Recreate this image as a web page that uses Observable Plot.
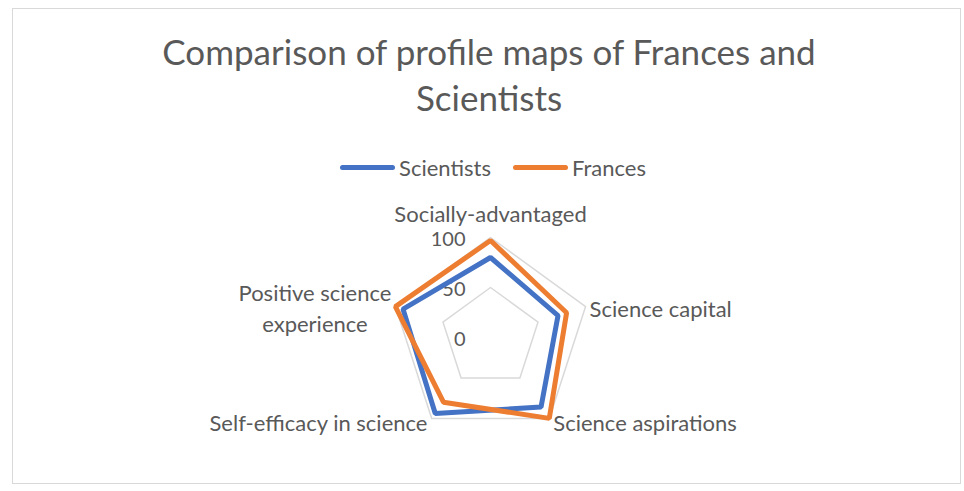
<!DOCTYPE html>
<html>
<head>
<meta charset="utf-8">
<script src="https://cdn.jsdelivr.net/npm/d3@7"></script>
<script src="https://cdn.jsdelivr.net/npm/@observablehq/plot@0.6"></script>
<style>
  html, body { margin: 0; padding: 0; background: #fff; }
  #wrap { position: relative; width: 964px; height: 491px; font-family: Lato, "Open Sans", sans-serif; color: #595959; overflow: hidden; }
  #frame { position: absolute; left: 12px; top: 8px; width: 949px; height: 476px; border: 1px solid #d9d9d9; box-sizing: border-box; }
  #title { position: absolute; left: 0; width: 978px; top: 28px; text-align: center; font-size: 35px; line-height: 46px; }
  #legend { position: absolute; left: 0; width: 986px; top: 149px; text-align: center; font-size: 22px; line-height: 26px; }
  .item { display: inline-flex; align-items: center; margin: 0 11px; }
  .sw { display: inline-block; width: 55px; height: 5px; border-radius: 3px; margin-right: 4px; }
  #chart { position: absolute; left: 0; top: 190px; }
</style>
</head>
<body>
<div id="wrap">
  <div id="frame"></div>
  <div id="title">Comparison of profile maps of Frances and<br>Scientists</div>
  <div id="legend"></div>
  <div id="chart"></div>
</div>
<script>
const categories = ["Socially-advantaged", "Science capital", "Science aspirations", "Self-efficacy in science", "Positive science\nexperience"];
const seriesNames = ["Scientists", "Frances"];
const scientists = [80, 71, 86, 94, 92];
const frances = [97, 80, 100, 80, 100];
const gridLevels = [50, 100];
const tickValues = [0, 50, 100];
const colors = ["#4472C4", "#ED7D31"];

const n = categories.length;
const pt = (i, r) => { const a = i * 2 * Math.PI / n; return {x: r * Math.sin(a), y: r * Math.cos(a)}; };

const seriesData = [];
[scientists, frances].forEach((vals, s) => {
  vals.forEach((v, i) => seriesData.push({series: seriesNames[s], i, ...pt(i, v)}));
});
const gridData = [];
gridLevels.forEach(l => categories.forEach((c, i) => gridData.push({level: l, ...pt(i, l)})));

// label placement: measure text to position centered labels outside the outer ring
const ctx = document.createElement("canvas").getContext("2d");
ctx.font = "22px Lato";
const maxR = d3.max(gridLevels);
const labelData = categories.map((c, i) => {
  const p = pt(i, maxR);
  const w = d3.max(c.split("\n"), s => ctx.measureText(s).width);
  const sx = Math.sin(i * 2 * Math.PI / n);
  let x = p.x, y = p.y;
  if (sx > 0.1) x += 4 + w / 2;
  else if (sx < -0.1) x -= 4 + w / 2;
  else y += 25;
  if (p.y < -50) y -= 3;
  return {label: c, x, y};
});

// legend
const leg = document.getElementById("legend");
seriesNames.forEach((s, k) => {
  const it = document.createElement("span");
  it.className = "item";
  it.innerHTML = `<span class="sw" style="background:${colors[k]}"></span>${s}`;
  leg.appendChild(it);
});

const chart = Plot.plot({
  width: 964,
  height: 280,
  margin: 0,
  x: {domain: [-490, 474], axis: null},
  y: {domain: [-133, 147], axis: null},
  color: {domain: seriesNames, range: colors},
  style: {fontFamily: "Lato, 'Open Sans', sans-serif", fontSize: "20px", color: "#595959", background: "transparent"},
  marks: [
    Plot.line(gridData, {x: "x", y: "y", z: "level", curve: "linear-closed", stroke: "#d9d9d9", strokeWidth: 1.5}),
    Plot.text(tickValues, {x: 0, y: d => d, text: d => String(d), dx: -25, dy: 2, textAnchor: "end", fill: "#595959", fontSize: 20}),
    Plot.line(seriesData, {x: "x", y: "y", z: "series", stroke: "series", curve: "linear-closed", strokeWidth: 5, strokeLinejoin: "miter"}),
    Plot.text(labelData, {x: "x", y: "y", text: "label", textAnchor: "middle", lineHeight: 1.41, fill: "#595959", fontSize: 22})
  ]
});
document.getElementById("chart").appendChild(chart);
</script>
</body>
</html>
